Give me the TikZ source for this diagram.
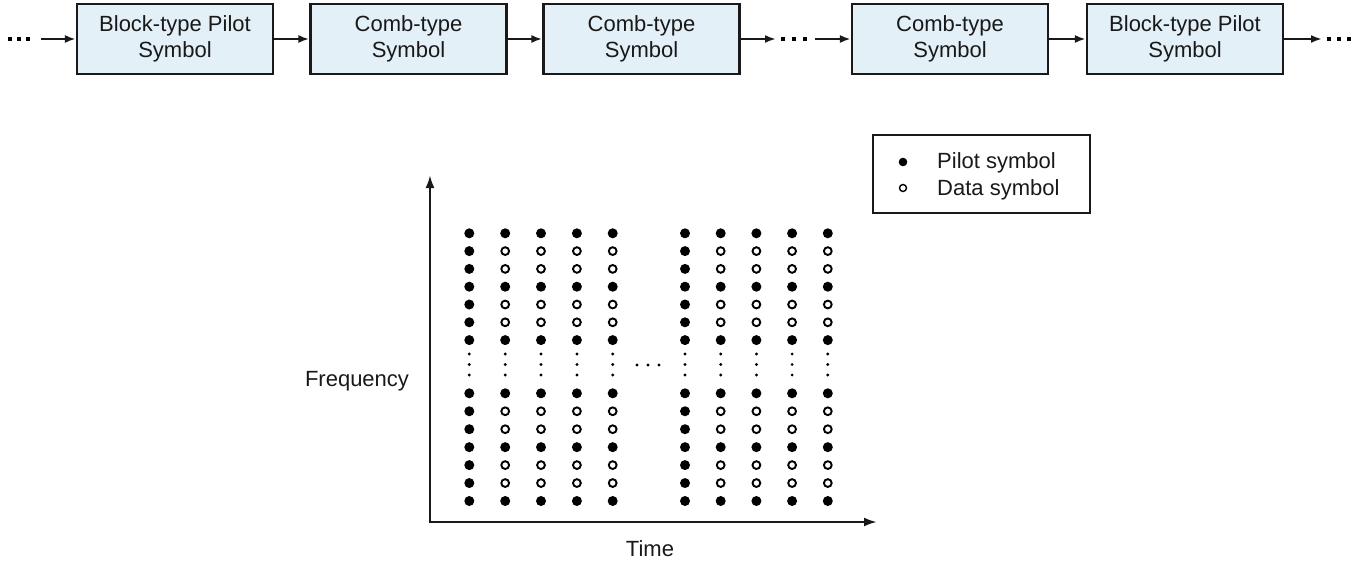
\documentclass[tikz,border=0pt]{standalone}
\usepackage{fontspec}
\setmainfont{Liberation Sans}
\usetikzlibrary{arrows.meta}
\definecolor{boxfill}{RGB}{227,240,247}
\definecolor{ink}{RGB}{25,25,25}
\begin{document}
\begin{tikzpicture}[x=1pt,y=-1pt,
  blk/.style={draw=ink, line width=2.2pt, fill=boxfill, minimum width=196pt, minimum height=70pt, inner sep=0pt, align=center, font=\fontsize{22}{26}\selectfont, text=ink},
  conn/.style={draw=ink, line width=2.2pt, -{Latex[length=11pt,width=8pt]}},
  axis/.style={draw=ink, line width=2.4pt, line join=miter, {Latex[length=13pt,width=9pt]}-{Latex[length=13pt,width=9pt]}},
  lbl/.style={font=\fontsize{22}{26}\selectfont, text=ink, inner sep=0pt},
  pdot/.style={fill=black},
  ddot/.style={draw=black, line width=1.9pt},
  sdot/.style={fill=black}]
\useasboundingbox (0,0) rectangle (1369,565);

% top chain
\node[blk] (b1) at (175,39) {Block-type Pilot\\Symbol};
\node[blk] (b2) at (408.5,39) {Comb-type\\Symbol};
\node[blk] (b3) at (641.5,39) {Comb-type\\Symbol};
\node[blk] (b4) at (950,39) {Comb-type\\Symbol};
\node[blk] (b5) at (1185,39) {Block-type Pilot\\Symbol};

\coordinate (s1) at (41,39);
\coordinate (e3) at (776,39);
\coordinate (s4) at (815,39);
\coordinate (e5) at (1322,39);

\foreach \x in {10,19,28,783,794,805,1329,1339,1349} \fill[sdot] (\x-2,37) rectangle (\x+2,41);

\draw[conn] (s1) -- (b1);
\draw[conn] (b1) -- (b2);
\draw[conn] (b2) -- (b3);
\draw[conn] (b3) -- (e3);
\draw[conn] (s4) -- (b4);
\draw[conn] (b4) -- (b5);
\draw[conn] (b5) -- (e5);

% legend
\node[draw=ink, line width=2.2pt, minimum width=217pt, minimum height=78pt, inner sep=0pt] (leg) at (981.4,174) {};
\fill[pdot] (903,162) circle (4.3);
\draw[draw=black, line width=1.4pt] (903,188) circle (3.5);
\node[lbl, anchor=base west] (lp) at (937,168) {Pilot symbol};
\node[lbl, anchor=base west] (ld) at (937,195) {Data symbol};

% axes
\coordinate (O) at (430,522);
\coordinate (ytip) at (430,175);
\coordinate (xtip) at (877,522);
\draw[axis] (ytip) -- (O) -- (xtip);
\node[lbl] (freq) at (357,381) {Frequency};
\node[lbl] (time) at (650,549) {Time};

% grid of symbols
\foreach \c/\x in {1/469.3,2/505.2,3/541,4/576.9,5/612.7,6/685,7/720.7,8/756.4,9/792.1,10/827.8} {
  \foreach \j in {0,...,6} {
    \pgfmathsetmacro\yt{233.3+17.8*\j}
    \pgfmathsetmacro\yb{393.3+17.95*\j}
    \pgfmathtruncatemacro\isf{(\c==1||\c==6||\j==0||\j==3||\j==6)?1:0}
    \ifnum\isf=1
      \fill[pdot] (\x,\yt) circle (5);
      \fill[pdot] (\x,\yb) circle (5);
    \else
      \draw[ddot] (\x,\yt) circle (3.9);
      \draw[ddot] (\x,\yb) circle (3.9);
    \fi
  }
  \foreach \y in {354,364.5,375} \fill[sdot] (\x,\y) circle (1.6);
}
\foreach \x in {637,648,659} \fill[sdot] (\x,365) circle (1.7);
\end{tikzpicture}
\end{document}
